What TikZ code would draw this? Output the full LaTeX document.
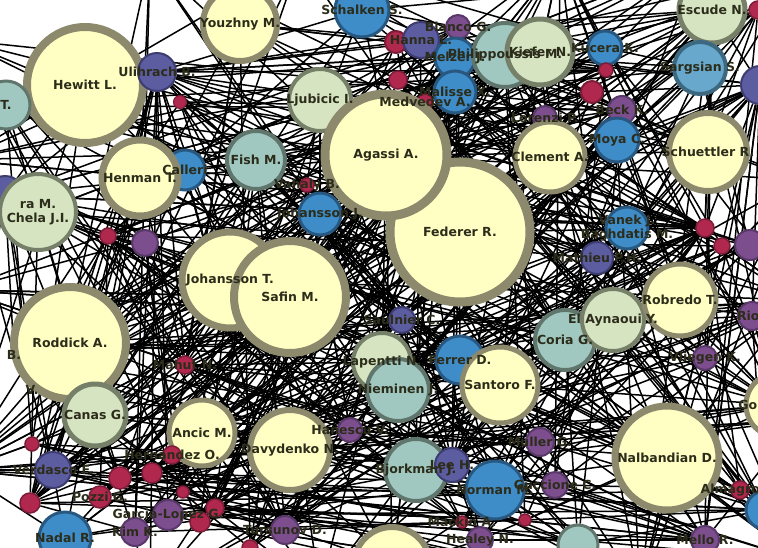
\documentclass[tikz,border=0pt]{standalone}
\usepackage{fontspec}
\newfontfamily\lbfamily{DejaVu Sans}
\usetikzlibrary{backgrounds}
\pgfdeclarelayer{background}
\pgfdeclarelayer{foreground}
\pgfsetlayers{background,main,foreground}

\definecolor{ylwfill}{RGB}{255,255,196}
\definecolor{ylwline}{RGB}{140,137,108}
\definecolor{pgfill}{RGB}{214,228,194}
\definecolor{pgline}{RGB}{118,128,104}
\definecolor{tlfill}{RGB}{160,200,192}
\definecolor{tlline}{RGB}{96,118,108}
\definecolor{tbfill}{RGB}{104,168,204}
\definecolor{tbline}{RGB}{60,104,128}
\definecolor{blfill}{RGB}{62,140,200}
\definecolor{blline}{RGB}{40,88,128}
\definecolor{pbfill}{RGB}{92,92,160}
\definecolor{pbline}{RGB}{60,60,112}
\definecolor{pufill}{RGB}{124,78,142}
\definecolor{puline}{RGB}{88,56,104}
\definecolor{rdfill}{RGB}{176,40,78}
\definecolor{rdline}{RGB}{124,28,56}
\definecolor{labelc}{RGB}{44,44,26}

\tikzset{
  pl/.style={circle, inner sep=0pt},
  yl/.style={pl, fill=ylwfill, draw=ylwline},
  pg/.style={pl, fill=pgfill, draw=pgline},
  tl/.style={pl, fill=tlfill, draw=tlline},
  tb/.style={pl, fill=tbfill, draw=tbline},
  bl/.style={pl, fill=blfill, draw=blline},
  pb/.style={pl, fill=pbfill, draw=pbline},
  pu/.style={pl, fill=pufill, draw=puline},
  rd/.style={pl, fill=rdfill, draw=rdline},
  gh/.style={inner sep=0pt},
  lbl/.style={inner sep=0pt, align=center, text=labelc,
    font=\lbfamily\bfseries\fontsize{12.5}{13.5}\selectfont},
  tie/.style={line width=1.5pt, black},
}

\begin{document}
\begin{tikzpicture}[x=1pt,y=-1pt]
\useasboundingbox (0,0) rectangle (758,547);
\clip (0,0) rectangle (758,547);

% players: name/x/y/diameter/border/style/label
\foreach \nm/\x/\y/\d/\w/\st/\lb [count=\i] in {
  hewitt/85/85/116/8/yl/Hewitt L.,
  youzhny/240/24/74/6/yl/Youzhny M.,
  ulihrach/157/72/38/2/pb/Ulihrach B.,
  reda/180/102/13/1/rd/{},
  haas/6/105/48/3/tl/T.,
  calleri/185/170/40/3/bl/Calleri,
  henman/140/178/76/7/yl/Henman T.,
  fish/256/160/58/4/tl/Fish M.,
  ljubicic/320/100/62/4/pg/Ljubicic I.,
  schalken/362/10/54/3/bl/Schalken S.,
  hrbaty/396/42/22/2/rd/{},
  hanna/421/40/36/2/pb/Hanna L.,
  blanco/458/27/24/2/pu/Blanco G.,
  melzer/455/58/40/3/bl/Melzer J.,
  malisse/455/92/42/3/bl/Malisse X.,
  redb/398/80/18/1.5/rd/{},
  medvedev/425/102/16/1.5/rd/Medvedev A.,
  philippoussis/505/55/64/4/tl/Philippoussis M.,
  kiefer/540/52/66/5/pg/Kiefer N.,
  kucera/605/48/34/3/bl/Kucera K.,
  redc/606/70/14/1.5/rd/{},
  redd/592/92/22/2/rd/{},
  escude/712/10/66/5/pg/Escude N.,
  sargsian/700/68/52/4/tb/Sargsian S.,
  pbtr/760/85/38/2/pb/{},
  rede/758/10/18/1.5/rd/{},
  lorenzi/545/118/24/2/pu/Lorenzi P.,
  beck/622/110/28/2/pu/Beck K.,
  moya/617/140/44/3/bl/Moya C.,
  clement/550/157/70/5/yl/Clement A.,
  schuettler/708/152/78/6/yl/Schuettler R.,
  federer/460/232/140/9/yl/Federer R.,
  agassi/386/155/122/9/yl/Agassi A.,
  vahaly/307/185/14/1.5/rd/Vahaly B.,
  johanssonj/320/214/42/3/bl/Johansson J.,
  pbl/5/195/38/2/pb/{},
  chela/38/212/76/4/pg/{ra M.\\Chela J.I.},
  redf/108/236/16/1.5/rd/{},
  pua/145/243/26/2/pu/{},
  johanssont/230/280/96/7/yl/Johansson T.,
  safin/290/297/112/8/yl/Safin M.,
  roddick/70/343/112/8/yl/Roddick A.,
  mahut/185/365/18/1.5/rd/Mahut N.,
  canas/95/415/62/5/pg/Canas G.,
  ancic/202/433/66/5/yl/Ancic M.,
  davydenko/290/450/80/6/yl/Davydenko N.,
  hanescu/350/430/24/2/pu/Hanescu V.,
  saulnier/402/320/26/2/pb/Saulnier C.,
  lapentti/382/362/58/4/pg/Lapentti N.,
  ferrer/460/360/48/3/bl/Ferrer D.,
  nieminen/398/390/62/4/tl/Nieminen J.,
  santoro/500/385/76/5/yl/Santoro F.,
  coria/565/340/60/4/tl/Coria G.,
  elaynaoui/613/320/62/4/pg/El Aynaoui Y.,
  robredo/680/300/72/5/yl/Robredo T.,
  vanek/627/228/42/3/bl/{Vanek J.\\Baghdatis M.},
  mathieu/597/258/32/2/pb/Mathieu P.H.,
  redg/705/228/18/1.5/rd/{},
  redh/722/246/16/1.5/rd/{},
  pub/750/245/30/2/pu/{},
  rios/752/316/28/2/pu/Rios,
  vliegen/705/358/24/2/pu/Vliegen K.,
  gonzalez/778/405/64/5/yl/Gonzalez F.,
  nalbandian/667/458/104/7/yl/Nalbandian D.,
  muller/540/442/28/2/pu/Muller G.,
  guccione/555/485/26/2/pu/Guccione C.,
  almagro/740/490/18/1.5/rd/Almagro N.,
  blr/765/510/38/3/bl/{},
  mello/705/540/28/2/pu/Mello R.,
  tlb/578/545/40/3/tl/{},
  ylb/392/565/76/6/yl/{},
  bjorkman/416/470/62/4/tl/Bjorkman J.,
  lee/452/465/34/2/pb/Lee H.,
  norman/495/490/58/3/bl/Norman M.,
  mackin/462/522/12/1.5/rd/Mackin A.,
  healey/480/540/26/2/pu/Healey N.,
  redi/525/520/12/1.5/rd/{},
  verdasco/53/470/36/2/pb/Verdasco F.,
  redj/32/444/14/1.5/rd/{},
  redk/30/503/20/1.5/rd/{},
  pozzi/100/497/22/1.5/rd/Pozzi G.,
  hernandez/172/455/18/1.5/rd/Hernandez O.,
  redl/120/478/22/1.5/rd/{},
  redm/152/473/20/1.5/rd/{},
  redn/183/492/12/1.5/rd/{},
  garcialopez/168/515/30/2/pu/Garcia-Lopez G.,
  kim/135/532/28/2/pu/Kim K.,
  redo/215/508/18/1.5/rd/{},
  redp/200/522/20/1.5/rd/{},
  nadal/65/538/52/3/bl/Nadal R.,
  tursunov/285/530/28/2/pu/Tursunov D.,
  redq/250/548/16/1.5/rd/{},
  offb/14/355/0/0/gh/B.,
  offv/32/390/0/0/gh/V.,
  ga/-40/40/0/0/gh/{},
  gb/-40/290/0/0/gh/{},
  gc/150/-40/0/0/gh/{},
  gd/560/-40/0/0/gh/{},
  ge/800/180/0/0/gh/{},
  gf/800/420/0/0/gh/{},
  gg/320/590/0/0/gh/{},
  gh/640/590/0/0/gh/{},
  gi/-40/470/0/0/gh/{},
  gj/800/-30/0/0/gh/{},
  gk/-40/160/0/0/gh/{},
  gl/300/-40/0/0/gh/{},
  gm/700/-40/0/0/gh/{},
  gn/800/300/0/0/gh/{},
  go/150/590/0/0/gh/{},
  gp/800/560/0/0/gh/{}}
{
  \node[\st, minimum size=\d pt, line width=\w pt, alias=p\i] (\nm) at (\x,\y) {};
  \begin{pgfonlayer}{foreground}
    \node[lbl] (\nm-t) at (\x,\y) {\lb};
  \end{pgfonlayer}
}

% matches
\begin{scope}[on background layer]
\fill[white] (0,0) rectangle (758,547);
\clip (0,0) rectangle (758,547);
\foreach \i in {1,...,110}
  \foreach \k in {1,...,6} {
    \pgfmathtruncatemacro\j{mod(\i*(2*\k+3)+7*\k*\k,110)+1}
    \ifnum\j=\i\else\draw[tie] (p\i) -- (p\j);\fi
  }
\end{scope}
\end{tikzpicture}
\end{document}
